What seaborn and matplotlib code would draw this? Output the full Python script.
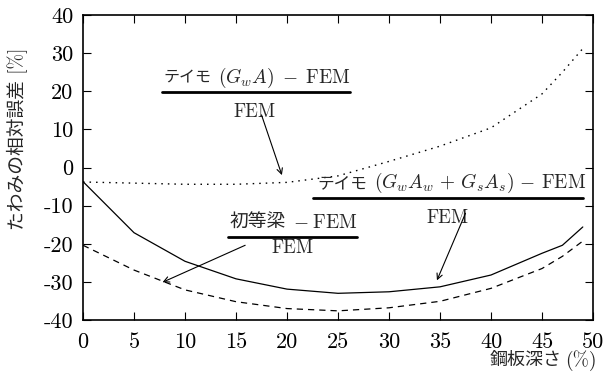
import numpy as np
import pandas as pd
import matplotlib
matplotlib.use('Agg')
import matplotlib.pyplot as plt
import seaborn as sns
from matplotlib.lines import Line2D
from matplotlib.transforms import offset_copy

# data
depth = [0, 5, 10, 15, 20, 25, 30, 35, 40, 45, 47, 49]
err_timo_gwaw = [-3.7, -17.1, -24.6, -29.2, -31.9, -33.0, -32.6, -31.3, -28.2, -22.5, -20.4, -15.6]
err_beam = [-20.4, -26.9, -32.1, -35.2, -37.0, -37.6, -36.8, -35.1, -31.7, -26.5, -23.3, -19.3]
err_timo_gwa = [-3.8, -4.1, -4.4, -4.4, -3.9, -2.2, 1.6, 5.6, 10.4, 19.3, 25.0, 31.2]

xticks = [0, 5, 10, 15, 20, 25, 30, 35, 40, 45, 50]
yticks = [-40, -30, -20, -10, 0, 10, 20, 30, 40]

sns.set_style('ticks')
plt.rcParams['font.family'] = ['cmr10', 'Noto Sans CJK JP', 'DejaVu Sans']
plt.rcParams['mathtext.fontset'] = 'cm'
plt.rcParams['axes.unicode_minus'] = False

fig = plt.figure(figsize=(6.08, 3.72), dpi=100)
ax = fig.add_axes([83 / 608, 1 - 320 / 372, 510 / 608, 305 / 372])

sns.lineplot(x=depth, y=err_timo_gwaw, ax=ax, color='black', lw=0.9)
sns.lineplot(x=depth, y=err_beam, ax=ax, color='black', lw=0.9, linestyle=(0, (5, 4)))
sns.lineplot(x=depth, y=err_timo_gwa, ax=ax, color='black', lw=1.0, linestyle=(0, (1.1, 3.6)))

ax.set_xlim(0, 50)
ax.set_ylim(-40, 40)
ax.set_xticks(xticks, labels=[str(v) for v in xticks])
ax.set_yticks(yticks, labels=[str(v) for v in yticks])
ax.tick_params(direction='in', length=6, width=0.8, top=True, right=True,
               labelsize=16, colors='black')
ax.tick_params(axis='x', pad=9)
ax.tick_params(axis='y', pad=7)
for s in ax.spines.values():
    s.set_linewidth(1.2)
    s.set_color('black')
ax.set_xlabel('')
ax.set_ylabel('')

# axis labels
fig.text(17 / 608, 1 - 139 / 372, 'たわみの相対誤差 [%]', rotation=90,
         ha='center', va='center', fontsize=13.5)
fig.text(562 / 608, 1 - 360 / 372, '鋼板深さ', ha='right', va='center', fontsize=13)
fig.text(565 / 608, 1 - 361 / 372, '(%)', ha='left', va='center', fontsize=14)

fig.canvas.draw()
renderer = fig.canvas.get_renderer()


def fraction(jp, jp_size, math, x_text, y_base, x0, x1, y_bar, x_den, y_den):
    t = ax.text(x_text, y_base, jp, ha='left', va='baseline', fontsize=jp_size,
                family=['Noto Sans CJK JP'])
    w = t.get_window_extent(renderer).width
    tr = offset_copy(ax.transData, fig=fig, x=w + 7, y=0, units='dots')
    ax.text(x_text, y_base, math, ha='left', va='baseline', fontsize=14, transform=tr)
    ax.add_line(Line2D([x0, x1], [y_bar, y_bar], color='black', lw=2.0))
    ax.text(x_den, y_den, 'FEM', ha='center', va='baseline', fontsize=13.5)


fraction('テイモ', 11.5, r'$(G_wA)\;-\;\mathrm{FEM}$',
         7.85, 22.2, 7.75, 26.2, 19.8, 16.8, 13.25)
fraction('テイモ', 12, r'$(G_wA_w\,+\,G_sA_s)\,-\,\mathrm{FEM}$',
         23.0, -5.4, 22.55, 49.0, -8.0, 35.7, -14.6)
fraction('初等梁', 13.5, r'$-\;\mathrm{FEM}$',
         14.4, -15.9, 14.2, 26.9, -18.2, 20.5, -22.4)

arrow = dict(arrowstyle='->', lw=0.8, color='black', shrinkA=0, shrinkB=0)
ax.annotate('', xy=(19.5, -2.0), xytext=(17.5, 13.8), arrowprops=arrow)
ax.annotate('', xy=(34.7, -29.6), xytext=(37.5, -12.0), arrowprops=arrow)
ax.annotate('', xy=(7.8, -30.1), xytext=(15.9, -20.4), arrowprops=arrow)

plt.savefig('out.png', dpi=100)
